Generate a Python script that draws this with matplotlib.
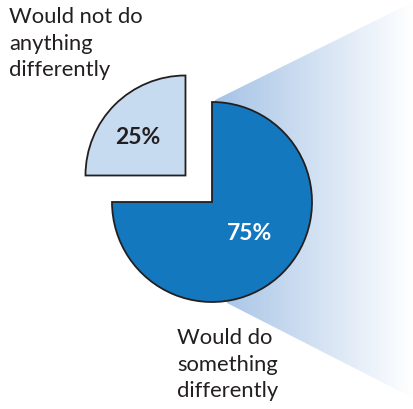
import numpy as np
import matplotlib
matplotlib.use("Agg")
import matplotlib.pyplot as plt
from matplotlib.patches import Polygon

# data
labels = ["Would not do\nanything\ndifferently", "Would do\nsomething\ndifferently"]
values = [25, 75]
pct_text = ["25%", "75%"]

# colours
DARK = "#1478be"
LIGHT = "#c6daf0"
EDGE = "#231f20"
FONT = "Lato"

W, H, DPI = 413, 409, 100
fig = plt.figure(figsize=(W / DPI, H / DPI), dpi=DPI, facecolor="white")
ax = fig.add_axes([0, 0, 1, 1])

cx, cy, r = 212, 207, 100

# gradient "zoom" wedge behind the pie
poly = Polygon([(cx + 3, cy + r + 2), (W, H - 2), (W, H - 398), (cx + 15, cy - r - 1)],
               closed=True, facecolor="none", edgecolor="none")
ax.add_patch(poly)
grad = np.linspace(0, 1, 256)
c0 = np.array([0.64, 0.76, 0.90])
img = (c0[None, :] * (1 - grad[:, None]) + np.ones(3)[None, :] * grad[:, None])[None, :, :]
im = ax.imshow(img, extent=(cx, W, 0, H), aspect="auto", zorder=1, interpolation="bilinear")
im.set_clip_path(poly)

# explode is in data units here (radius is 100)
wedges, _ = ax.pie(values, colors=[LIGHT, DARK], startangle=90, counterclock=True,
                   explode=[37.5, 0], center=(cx, cy), radius=r, frame=True,
                   wedgeprops=dict(edgecolor=EDGE, linewidth=1.3))
for w in wedges:
    w.set_zorder(2)

ax.text(138, H - 137, pct_text[0], ha="center", va="center", fontsize=16.5,
        fontweight="bold", color=EDGE, family=FONT, zorder=3)
ax.text(250, H - 233, pct_text[1], ha="center", va="center", fontsize=16.5,
        fontweight="bold", color="white", family=FONT, zorder=3)

ax.text(9, H - 7, labels[0], ha="left", va="top", fontsize=15.8, color=EDGE,
        family=FONT, linespacing=1.42, zorder=3)
ax.text(177, H - 328, labels[1], ha="left", va="top", fontsize=15.8, color=EDGE,
        family=FONT, linespacing=1.42, zorder=3)

ax.set_xlim(0, W)
ax.set_ylim(0, H)
ax.set_aspect("auto")
ax.axis("off")

fig.savefig("out.png", dpi=DPI, facecolor="white")
